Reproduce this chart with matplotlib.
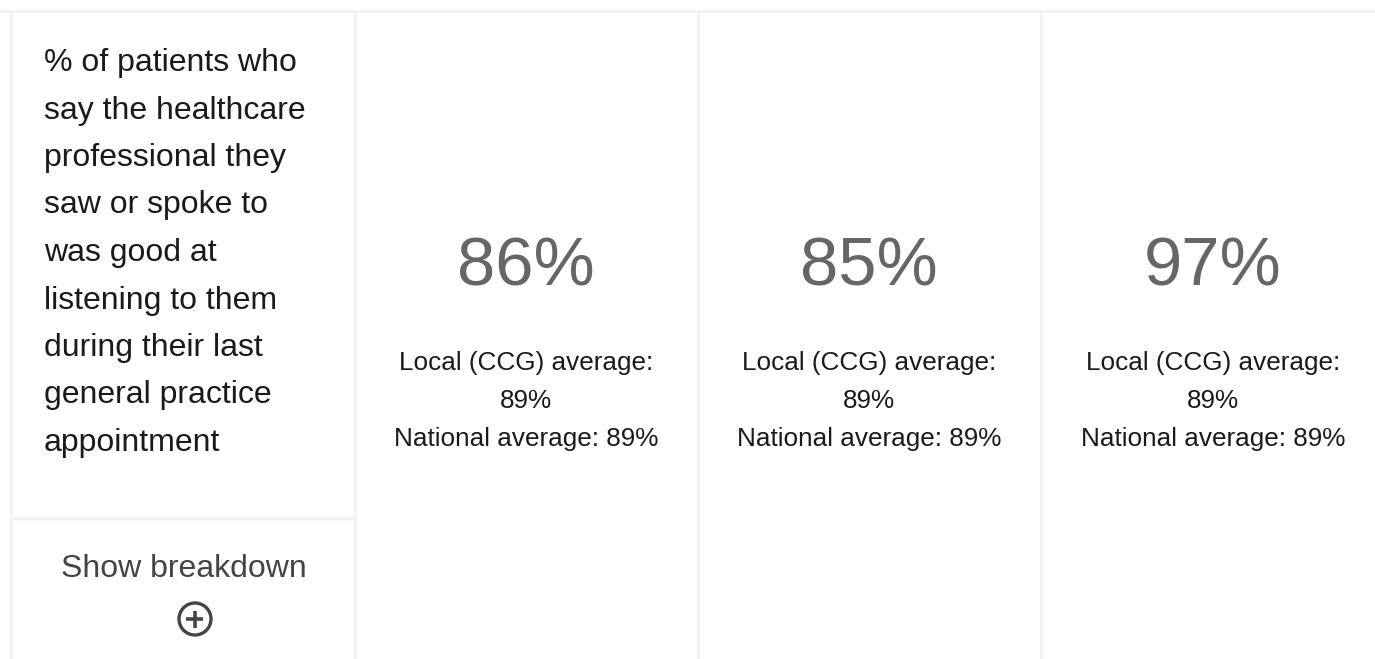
import matplotlib
matplotlib.use("Agg")
import matplotlib.pyplot as plt
from matplotlib.patches import Circle

# ---- data ----
question_lines = ["% of patients who", "say the healthcare", "professional they",
                  "saw or spoke to", "was good at", "listening to them",
                  "during their last", "general practice", "appointment"]
practice_values = [86, 85, 97]
local_avg = [89, 89, 89]
national_avg = [89, 89, 89]
toggle_label = "Show breakdown"

# ---- layout ----
W, H = 1375, 659
fig = plt.figure(figsize=(W / 100, H / 100), dpi=100)
ax = fig.add_axes([0, 0, 1, 1])
ax.set_xlim(0, W)
ax.set_ylim(H, 0)
ax.axis("off")

font = ["Liberation Sans", "Arial", "DejaVu Sans"]
border = "#f2f2f2"

# borders
col_edges = [11, 355, 698, 1041]
ax.plot([0, W], [11, 11], color=border, lw=2)
for x in col_edges:
    ax.plot([x, x], [11, H], color=border, lw=2)
ax.plot([11, 355], [518, 518], color=border, lw=2.5)

# question text
y0, dy = 63, 47.5
for i, line in enumerate(question_lines):
    ax.text(44, y0 + i * dy, line, fontsize=23, family=font, color="#1a1a1a",
            ha="left", va="center")

# show breakdown
ax.text(184, 569, toggle_label, fontsize=23, family=font, color="#444444",
        ha="center", va="center")
ax.add_patch(Circle((195, 619), 16, fill=False, ec="#444444", lw=2.4))
ax.plot([186.5, 203.5], [619, 619], color="#444444", lw=2.6, solid_capstyle="butt")
ax.plot([195, 195], [610.5, 627.5], color="#444444", lw=2.6, solid_capstyle="butt")

# value columns
centers = [526, 869, 1213]
for cx, v, la, na in zip(centers, practice_values, local_avg, national_avg):
    ax.text(cx, 267, f"{v}%", fontsize=49.5, family=font, color="#666666",
            ha="center", va="center")
    ax.text(cx, 363, "Local (CCG) average:", fontsize=18.8, family=font,
            color="#1a1a1a", ha="center", va="center")
    ax.text(cx, 401, f"{la}%", fontsize=18.8, family=font,
            color="#1a1a1a", ha="center", va="center")
    ax.text(cx, 439, f"National average: {na}%", fontsize=18.8, family=font,
            color="#1a1a1a", ha="center", va="center")

fig.savefig("out.png", dpi=100, facecolor="white")
